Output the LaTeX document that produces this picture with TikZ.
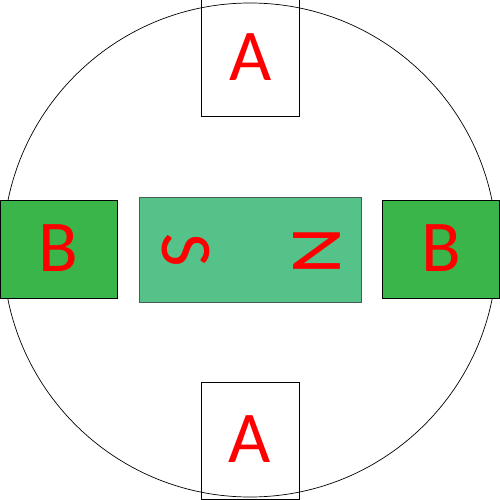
\documentclass[tikz,border=0pt]{standalone}
\usepackage{fontspec}
\setmainfont{Carlito}
\definecolor{magfill}{HTML}{55C28A}
\definecolor{magedge}{HTML}{4A5A55}
\definecolor{polefill}{HTML}{3AB54A}
\definecolor{txtred}{HTML}{FF0000}
\tikzset{
  lbl/.style={text=txtred, font=\fontsize{73}{73}\selectfont, inner sep=0pt},
  abox/.style={draw=black, line width=1pt, minimum width=98pt, minimum height=117pt, inner sep=0pt},
  bbox/.style={draw=black, line width=1pt, fill=polefill, minimum width=117pt, minimum height=98pt, inner sep=0pt},
  magbox/.style={draw=magedge, line width=1pt, fill=magfill, minimum width=222pt, minimum height=105pt, inner sep=0pt}
}
\begin{document}
\begin{tikzpicture}[x=1pt,y=-1pt]
\useasboundingbox (0,0) rectangle (500,500);
\node[circle, draw=black, line width=0.7pt, minimum size=494pt, inner sep=0pt] (rotor) at (250,250) {};
\node[abox] (atop) at (250.5,58.5) {};
\node[lbl] (atoptxt) at (250.5,57) {A};
\node[abox] (abot) at (250,440.5) {};
\node[lbl] (abottxt) at (250,439) {A};
\node[bbox] (bleft) at (58.5,249) {};
\node[lbl] (blefttxt) at (58.5,248) {B};
\node[bbox] (bright) at (441,249) {};
\node[lbl] (brighttxt) at (441,248) {B};
\node[magbox] (magnet) at (250,249.5) {};
\node[lbl, rotate=-90] (spole) at (186,250) {S};
\node[lbl, rotate=-90] (npole) at (317,251) {N};
\end{tikzpicture}
\end{document}
